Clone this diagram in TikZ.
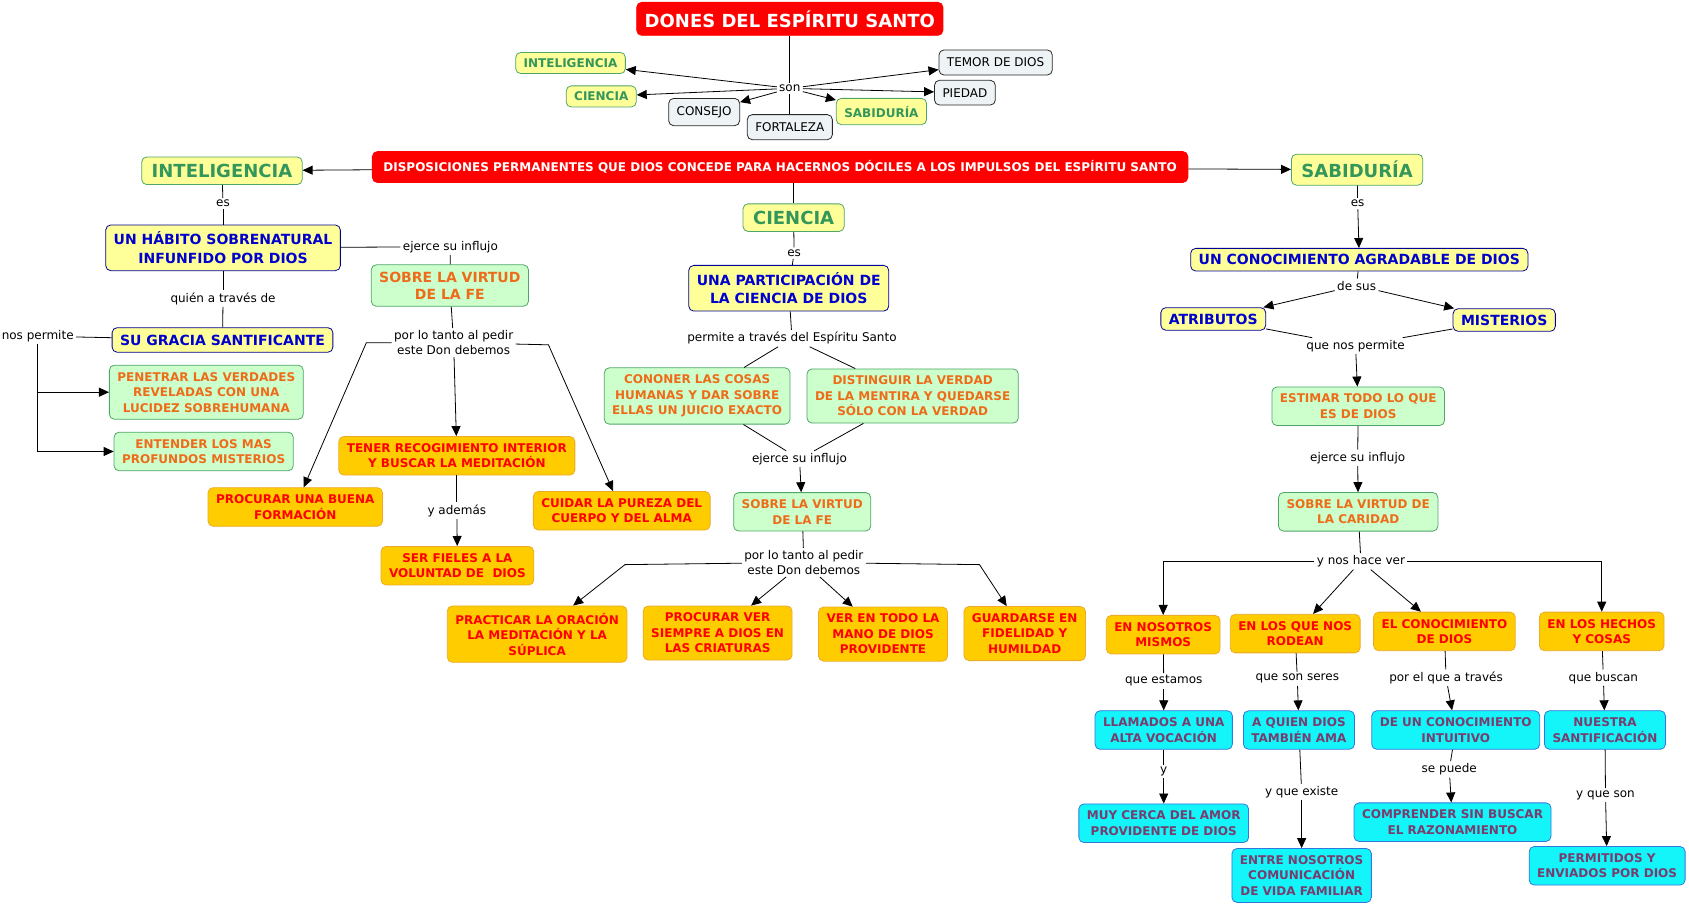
\documentclass[tikz,border=0pt]{standalone}
\usepackage{fontspec}
\setmainfont{DejaVu Sans}
\usetikzlibrary{arrows.meta}

\definecolor{rojo}{RGB}{255,0,0}
\definecolor{amarillo}{RGB}{255,255,153}
\definecolor{verdeborde}{RGB}{80,165,105}
\definecolor{verdetexto}{RGB}{51,150,90}
\definecolor{azulborde}{RGB}{0,0,150}
\definecolor{azultexto}{RGB}{0,0,204}
\definecolor{verdeclaro}{RGB}{204,255,204}
\definecolor{naranja}{RGB}{238,108,25}
\definecolor{oro}{RGB}{255,204,0}
\definecolor{oroborde}{RGB}{235,170,40}
\definecolor{cian}{RGB}{20,245,250}
\definecolor{cianborde}{RGB}{50,120,220}
\definecolor{morado}{RGB}{120,60,110}
\definecolor{gris}{RGB}{238,243,245}
\definecolor{grisborde}{RGB}{40,40,40}

\newcommand{\letra}[2]{\fontsize{#1}{#2}\selectfont}

\begin{document}
\begin{tikzpicture}[x=1.0775pt,y=-1.0775pt,line width=0.8pt,>={Triangle[length=10pt,width=9pt]}]
	\tikzstyle{concepto}=[rounded corners=5pt,align=center,line width=0.8pt,inner xsep=8pt,inner ysep=7pt,font=\bfseries\letra{12}{15.5}]
	\tikzstyle{rojobox}=[concepto,fill=rojo,draw=rojo,text=white]
	\tikzstyle{cabeza}=[concepto,fill=amarillo,draw=verdeborde,text=verdetexto,inner xsep=10pt,font=\bfseries\letra{18}{21}]
	\tikzstyle{cabezachica}=[concepto,fill=amarillo,draw=verdeborde,text=verdetexto,inner ysep=6pt]
	\tikzstyle{azul}=[concepto,fill=amarillo,draw=azulborde,text=azultexto,font=\bfseries\letra{14}{18.5}]
	\tikzstyle{verde}=[concepto,fill=verdeclaro,draw=verdeborde,text=naranja]
	\tikzstyle{naranjo}=[concepto,fill=oro,draw=oroborde,text=rojo]
	\tikzstyle{cian}=[concepto,fill=cian,draw=cianborde,text=morado]
	\tikzstyle{gris}=[concepto,fill=gris,draw=grisborde,text=black,font=\letra{12}{15},inner ysep=8pt]
	\tikzstyle{enlace}=[align=center,inner sep=2pt,font=\letra{12}{15}]

	\useasboundingbox (0,0) rectangle (1567.5,839.9);

	% dones
	\node[rojobox,font=\bfseries\letra{18}{21},inner ysep=8pt] (dones) at (733,17.5) {DONES DEL ESPÍRITU SANTO};
	\node[enlace] (son) at (733,82) {son};
	\node[cabezachica] (inteligencia1) at (529.5,58.5) {INTELIGENCIA};
	\node[cabezachica] (ciencia1) at (558,89.5) {CIENCIA};
	\node[gris] (consejo) at (653.5,104) {CONSEJO};
	\node[gris] (fortaleza) at (733,118) {FORTALEZA};
	\node[cabezachica,inner ysep=7.5pt] (sabiduria1) at (818,103.5) {SABIDURÍA};
	\node[gris] (temor) at (924,58) {TEMOR DE DIOS};
	\node[gris] (piedad) at (895.5,86) {PIEDAD};

	\node[rojobox,inner ysep=9pt,inner xsep=11pt] (disposiciones) at (724,155) {DISPOSICIONES PERMANENTES QUE DIOS CONCEDE PARA HACERNOS DÓCILES A LOS IMPULSOS DEL ESPÍRITU SANTO};
	\node[cabeza] (inteligencia) at (206,158.5) {INTELIGENCIA};
	\node[cabeza] (ciencia) at (736.5,202) {CIENCIA};
	\node[cabeza] (sabiduria) at (1259.5,157.5) {SABIDURÍA};

	% inteligencia
	\node[enlace] (es1) at (207,189) {es};
	\node[azul] (habito) at (207,230) {UN HÁBITO SOBRENATURAL\\INFUNFIDO POR DIOS};
	\node[enlace] (influjo1) at (418,229) {ejerce su influjo};
	\node[verde,font=\bfseries\letra{14}{17}] (fe1) at (417.5,265) {SOBRE LA VIRTUD\\DE LA FE};
	\node[enlace] (traves1) at (207,277) {quién a través de};
	\node[azul] (gracia) at (206.5,315.5) {SU GRACIA SANTIFICANTE};
	\node[enlace] (permite1) at (35,312) {nos permite};
	\node[verde] (penetrar) at (191.5,364) {PENETRAR LAS VERDADES\\REVELADAS CON UNA\\LUCIDEZ SOBREHUMANA};
	\node[verde] (entender) at (189,419) {ENTENDER LOS MAS\\PROFUNDOS MISTERIOS};
	\node[enlace] (debemos1) at (421,318) {por lo tanto al pedir\\este Don debemos};
	\node[naranjo] (tener) at (424,423) {TENER RECOGIMIENTO INTERIOR\\Y BUSCAR LA MEDITACIÓN};
	\node[naranjo] (formacion) at (274,470.5) {PROCURAR UNA BUENA\\FORMACIÓN};
	\node[naranjo] (cuidar) at (577,474) {CUIDAR LA PUREZA DEL\\CUERPO Y DEL ALMA};
	\node[enlace] (ademas) at (424,474) {y además};
	\node[naranjo] (fieles) at (424.5,525) {SER FIELES A LA\\VOLUNTAD DE\ \ DIOS};
	\coordinate (codo1) at (340,318);
	\coordinate (codo2) at (509,320);

	% ciencia
	\node[enlace] (es2) at (737,235) {es};
	\node[azul] (participacion) at (732,267.5) {UNA PARTICIPACIÓN DE\\LA CIENCIA DE DIOS};
	\node[enlace] (permite2) at (735,314) {permite a través del Espíritu Santo};
	\node[verde] (conocer) at (647,367.5) {CONONER LAS COSAS\\HUMANAS Y DAR SOBRE\\ELLAS UN JUICIO EXACTO};
	\node[verde] (distinguir) at (847,367.5) {DISTINGUIR LA VERDAD\\DE LA MENTIRA Y QUEDARSE\\SÓLO CON LA VERDAD};
	\node[enlace] (influjo2) at (742,426) {ejerce su influjo};
	\node[verde] (fe2) at (744.5,475) {SOBRE LA VIRTUD\\DE LA FE};
	\node[enlace] (debemos2) at (746,522) {por lo tanto al pedir\\este Don debemos};
	\node[naranjo] (oracion) at (498.5,588.5) {PRACTICAR LA ORACIÓN\\LA MEDITACIÓN Y LA\\SÚPLICA};
	\node[naranjo] (criaturas) at (666,587.5) {PROCURAR VER\\SIEMPRE A DIOS EN\\LAS CRIATURAS};
	\node[naranjo] (providente) at (819.5,588.5) {VER EN TODO LA\\MANO DE DIOS\\PROVIDENTE};
	\node[naranjo] (fidelidad) at (951,588) {GUARDARSE EN\\FIDELIDAD Y\\HUMILDAD};
	\coordinate (codo3) at (580,524);
	\coordinate (codo4) at (909,524);

	% sabiduria
	\node[enlace] (es3) at (1260,189) {es};
	\node[azul,inner ysep=6pt] (agradable) at (1261.5,241) {UN CONOCIMIENTO AGRADABLE DE DIOS};
	\node[enlace] (desus) at (1259,265) {de sus};
	\node[azul,inner ysep=6pt] (atributos) at (1126,296) {ATRIBUTOS};
	\node[azul,inner ysep=6pt] (misterios) at (1396,297) {MISTERIOS};
	\node[enlace] (nospermite) at (1258,321) {que nos permite};
	\node[verde] (estimar) at (1260.5,377) {ESTIMAR TODO LO QUE\\ES DE DIOS};
	\node[enlace] (influjo3) at (1260,425) {ejerce su influjo};
	\node[verde] (caridad) at (1260.5,475) {SOBRE LA VIRTUD DE\\LA CARIDAD};
	\node[enlace] (hacever) at (1263,521) {y nos hace ver};
	\node[naranjo] (mismos) at (1079.5,589) {EN NOSOTROS\\MISMOS};
	\node[naranjo] (rodean) at (1202,588) {EN LOS QUE NOS\\RODEAN};
	\node[naranjo] (conocimiento) at (1340.5,586) {EL CONOCIMIENTO\\DE DIOS};
	\node[naranjo] (hechos) at (1486.5,586) {EN LOS HECHOS\\Y COSAS};
	\node[enlace] (estamos) at (1080,632) {que estamos};
	\node[cian] (vocacion) at (1080,677.5) {LLAMADOS A UNA\\ALTA VOCACIÓN};
	\node[enlace] (y1) at (1080,716) {y};
	\node[cian] (amor) at (1080,764) {MUY CERCA DEL AMOR\\PROVIDENTE DE DIOS};
	\node[enlace] (seres) at (1204,630) {que son seres};
	\node[cian] (ama) at (1205.5,677.5) {A QUIEN DIOS\\TAMBIÉN AMA};
	\node[enlace] (existe) at (1208,735) {y que existe};
	\node[cian] (familiar) at (1208,812.5) {ENTRE NOSOTROS\\COMUNICACIÓN\\DE VIDA FAMILIAR};
	\node[enlace] (atraves) at (1342,629) {por el que a través};
	\node[cian] (intuitivo) at (1351,677.5) {DE UN CONOCIMIENTO\\INTUITIVO};
	\node[enlace] (puede) at (1345,714) {se puede};
	\node[cian] (razonamiento) at (1348,763) {COMPRENDER SIN BUSCAR\\EL RAZONAMIENTO};
	\node[enlace] (buscan) at (1488,629) {que buscan};
	\node[cian] (santificacion) at (1489.5,677.5) {NUESTRA\\SANTIFICACIÓN};
	\node[enlace] (yson) at (1490,738) {y que son};
	\node[cian] (enviados) at (1491.5,803.5) {PERMITIDOS Y\\ENVIADOS POR DIOS};

	% lineas sin flecha
	\path
	(dones) edge (son)
	(son) edge (fortaleza)
	(disposiciones.south -| ciencia) edge (ciencia)
	(inteligencia) edge (es1)
	(es1) edge (habito)
	(habito) edge (traves1)
	(traves1) edge (gracia)
	(habito) edge (influjo1)
	(influjo1) edge (fe1)
	(gracia) edge (permite1)
	(fe1) edge (debemos1)
	(tener) edge (ademas)
	(ciencia) edge (es2)
	(es2) edge (participacion)
	(participacion) edge (permite2)
	(permite2) edge (conocer)
	edge (distinguir)
	(conocer) edge (influjo2)
	(distinguir) edge (influjo2)
	(fe2) edge (debemos2)
	(sabiduria) edge (es3)
	(agradable) edge (desus)
	(atributos) edge (nospermite)
	(misterios) edge (nospermite)
	(estimar) edge (influjo3)
	(caridad) edge (hacever)
	(mismos) edge (estamos)
	(vocacion) edge (y1)
	(rodean) edge (seres)
	(ama) edge (existe)
	(conocimiento) edge (atraves)
	(intuitivo) edge (puede)
	(hechos) edge (buscan)
	(santificacion) edge (yson);

	% flechas
	\path[->]
	(son)
	edge (inteligencia1)
	edge (ciencia1)
	edge (consejo)
	edge (sabiduria1)
	edge (temor)
	edge (piedad)
	(disposiciones)
	edge (inteligencia)
	edge (sabiduria)
	(debemos1) edge (tener)
	(ademas) edge (fieles)
	(influjo2) edge (fe2)
	(debemos2)
	edge (criaturas)
	edge (providente)
	(es3) edge (agradable)
	(desus)
	edge (atributos)
	edge (misterios)
	(nospermite) edge (estimar)
	(influjo3) edge (caridad)
	(hacever)
	edge (rodean)
	edge (conocimiento)
	(estamos) edge (vocacion)
	(y1) edge (amor)
	(seres) edge (ama)
	(existe) edge (familiar)
	(atraves) edge (intuitivo)
	(puede) edge (razonamiento)
	(buscan) edge (santificacion)
	(yson) edge (enviados);

	\draw[->] (permite1) |- (penetrar);
	\draw[->] (permite1) |- (entender);
	\draw[->] (debemos1) -- (codo1) -- (formacion);
	\draw[->] (debemos1) -- (codo2) -- (cuidar);
	\draw[->] (debemos2) -- (codo3) -- (oracion);
	\draw[->] (debemos2) -- (codo4) -- (fidelidad);
	\draw[->] (hacever) -| (mismos);
	\draw[->] (hacever) -| (hechos);

\end{tikzpicture}
\end{document}
